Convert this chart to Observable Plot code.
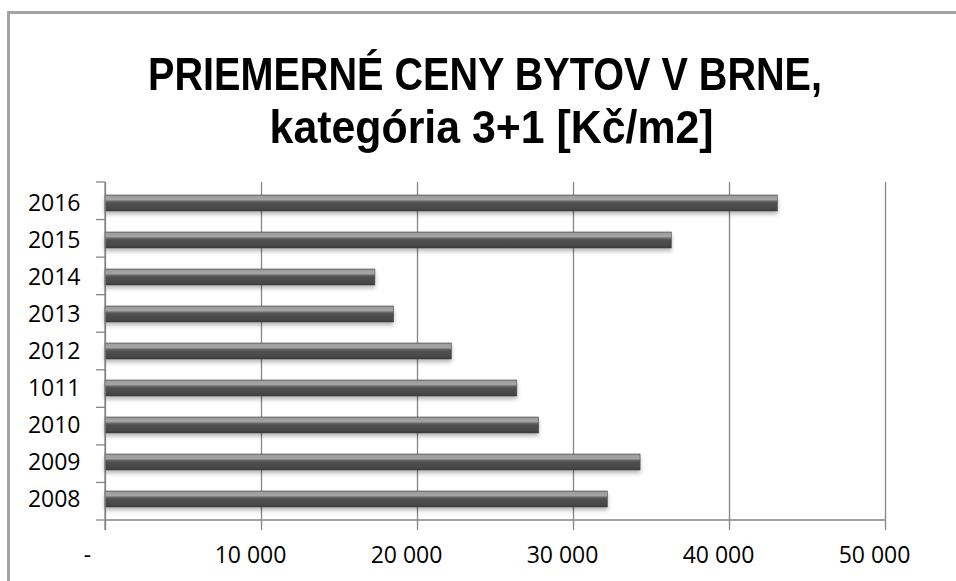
<!DOCTYPE html>
<html><head><meta charset="utf-8">
<script src="https://cdn.jsdelivr.net/npm/d3@7"></script>
<script src="https://cdn.jsdelivr.net/npm/@observablehq/plot@0.6"></script>
<style>
body{margin:0;background:#fff;}
#c{position:relative;width:956px;height:581px;overflow:hidden;background:#fff;font-family:"Open Sans",sans-serif;}
#frame{position:absolute;left:7px;top:11px;width:1000px;height:1000px;border-left:3px solid #a3a3a3;border-top:3px solid #a3a3a3;box-sizing:border-box;}
.tline{position:absolute;white-space:nowrap;font-family:"Liberation Sans",Arial,sans-serif;font-weight:bold;font-size:47px;line-height:52px;height:52px;color:#000;transform-origin:center center;}
#plot{position:absolute;left:0;top:170px;}
</style></head><body>
<div id="c"><div id="frame"></div><div id="title"></div><div id="plot"></div></div>
<script>
const years = ["2008","2009","2010","1011","2012","2013","2014","2015","2016"];
const prices = [32200, 34300, 27800, 26400, 22200, 18500, 17300, 36300, 43100];
const xTicks = [0, 10000, 20000, 30000, 40000, 50000];
const titleLines = ["PRIEMERNÉ CENY BYTOV V BRNE,", "kategória 3+1 [Kč/m2]"];

// title (HTML, horizontally fitted to the reference width)
const tl = [{cx:485, top:47.5, len:674}, {cx:492, top:100.5, len:444}];
const tbox = document.getElementById("title");
titleLines.forEach((t,i)=>{
  const s = document.createElement("div");
  s.className = "tline";
  s.textContent = t;
  tbox.appendChild(s);
  const w = s.getBoundingClientRect().width;
  s.style.left = (tl[i].cx - w/2) + "px";
  s.style.top = tl[i].top + "px";
  s.style.transform = `scaleX(${tl[i].len / w})`;
});

const data = years.map((year,i)=>({year, price: prices[i]}));
const order = years.slice().reverse();
const fmt = d => d === 0 ? "-" : d3.format(",")(d).replace(/,/g, " ");
const axisColor = "#868686";

function frameLines(index, scales, values, dims) {
  const g = d3.create("svg:g").attr("stroke", axisColor).attr("stroke-width", 1.3);
  const top = dims.marginTop, bottom = dims.height - dims.marginBottom;
  const left = dims.marginLeft, right = dims.width - dims.marginRight;
  const n = order.length, step = (bottom - top) / n;
  for (let i = 0; i <= n; i++) {
    g.append("line").attr("x1", left - 9).attr("x2", left).attr("y1", top + i*step).attr("y2", top + i*step);
  }
  g.append("line").attr("x1", left).attr("x2", left).attr("y1", top).attr("y2", bottom + 10);
  g.append("line").attr("x1", left).attr("x2", right).attr("y1", bottom).attr("y2", bottom);
  return g.node();
}

const plot = Plot.plot({
  width: 956, height: 411,
  marginTop: 12, marginBottom: 61, marginLeft: 105, marginRight: 71,
  style: {fontFamily: "Open Sans", fontSize: "23px", color: "#000", background: "transparent"},
  x: {domain: [0, 50000], label: null},
  y: {domain: order, paddingInner: 0.58, paddingOuter: 0.29, label: null},
  marks: [
    Plot.gridX(xTicks, {stroke: axisColor, strokeOpacity: 1, strokeWidth: 1.3}),
    Plot.axisX(xTicks, {tickSize: 10, stroke: axisColor, strokeWidth: 1.3, tickFormat: () => "", label: null}),
    Plot.axisX(xTicks.slice(1), {tickSize: 0, tickPadding: 26, dx: -11, tickFormat: fmt, fill: "#000", label: null}),
    Plot.axisX([0], {tickSize: 0, tickPadding: 26, dx: -18, tickFormat: fmt, fill: "#000", label: null}),
    Plot.axisY({tickSize: 0, tickPadding: 25, fill: "#000", label: null}),
    Plot.barX(data, {x: "price", y: "year", fill: "url(#barGrad)", stroke: "#4a4a4a", strokeWidth: 0.6}),
    frameLines
  ]
});

const svg = d3.select(plot);
const defs = svg.insert("defs", ":first-child");
const grad = defs.append("linearGradient").attr("id","barGrad").attr("x1",0).attr("y1",0).attr("x2",0).attr("y2",1);
[[0,"#888888"],[0.1,"#9f9f9f"],[0.3,"#a5a5a5"],[0.38,"#6a6a6a"],[0.5,"#505050"],[0.88,"#474747"],[1,"#333333"]]
  .forEach(([o,c]) => grad.append("stop").attr("offset", o).attr("stop-color", c));
svg.selectAll('g[aria-label="bar"]').style("filter", "drop-shadow(0px 3px 2px rgba(0,0,0,0.28))");
document.getElementById("plot").appendChild(plot);
</script>
</body></html>
